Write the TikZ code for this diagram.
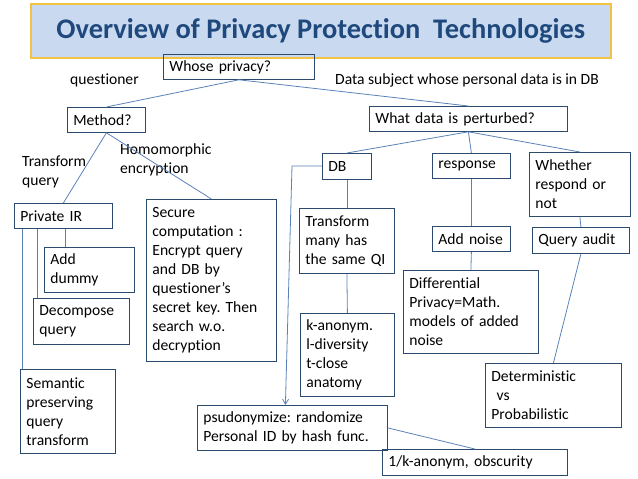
\documentclass[tikz,border=0pt]{standalone}
\usepackage{fontspec}
\setmainfont{Carlito}[Ligatures={NoCommon}]
\usetikzlibrary{arrows.meta}
\definecolor{boxc}{HTML}{2C4A6E}
\definecolor{linec}{HTML}{5A82B8}
\definecolor{titlefill}{HTML}{C9DAF0}
\definecolor{titledraw}{HTML}{F2C244}
\definecolor{titletext}{HTML}{1F497D}
\newcommand\fs{\fontsize{15.6}{19}\selectfont\frenchspacing}
\tikzset{
  box/.style={draw=boxc, line width=0.8pt, inner xsep=6pt, inner ysep=0pt, align=left, anchor=north west, font=\fs},
  lbl/.style={inner sep=0pt, align=left, anchor=west, font=\fs},
  conn/.style={draw=linec, line width=0.8pt},
}
\begin{document}
\begin{tikzpicture}[x=1pt,y=-1pt]
\useasboundingbox (0,0) rectangle (638,479);
% title
\node[draw=titledraw, fill=titlefill, line width=1.6pt, minimum width=580pt, minimum height=54pt, anchor=north west, inner sep=0pt,
  font=\fontsize{28.4}{30}\selectfont\bfseries, text=titletext] (title) at (30,3) {Overview of Privacy Protection\ \ Technologies};
% boxes
\node[box, text width=139pt, minimum height=25pt] (whose) at (163,54) {Whose privacy?};
\node[box, text width=66pt, minimum height=25pt] (method) at (67,107) {Method?};
\node[box, text width=186pt, minimum height=25pt] (whatdata) at (369,106) {What data is perturbed?};
\node[box, text width=86pt, minimum height=25pt] (privir) at (14,203) {Private IR};
\node[box, text width=78pt, minimum height=45pt] (adddummy) at (44,247) {Add\\dummy};
\node[box, text width=84pt, minimum height=46pt] (decompose) at (33,298) {Decompose\\query};
\node[box, text width=83pt, minimum height=84pt] (semantic) at (20,369) {Semantic\\preserving\\query\\transform};
\node[box, text width=118pt, minimum height=162pt] (secure) at (146,199) {Secure\\computation :\\Encrypt query\\and DB by\\questioner’s\\secret key. Then\\search w.o.\\decryption};
\node[box, text width=37pt, minimum height=26pt] (db) at (322,153) {DB};
\node[box, text width=66pt, minimum height=25pt] (response) at (432,153) {response};
\node[box, text width=89pt, minimum height=64pt] (whether) at (529,152) {Whether\\respond or\\not};
\node[box, text width=83pt, minimum height=65pt] (transform) at (299,208) {Transform\\many has\\the same QI};
\node[box, text width=82pt, minimum height=83pt] (kanon) at (300,313) {k-anonym.\\l-diversity\\t-close\\anatomy};
\node[box, text width=66pt, minimum height=25pt] (addnoise) at (432,226) {Add noise};
\node[box, text width=123pt, minimum height=83pt] (diff) at (403,270) {Differential\\Privacy=Math.\\models of added\\noise};
\node[box, text width=85pt, minimum height=26pt] (queryaudit) at (532,227) {Query audit};
\node[box, text width=124pt, minimum height=64pt] (determ) at (485,363) {Deterministic\\\ vs\\Probabilistic};
\node[box, text width=178pt, minimum height=45pt] (psud) at (197,405) {psudonymize: randomize\\Personal ID by hash func.};
\node[box, text width=173pt, minimum height=26pt] (onek) at (382,449) {1/k-anonym, obscurity};
% labels
\node[lbl] (questioner) at (70,80) {questioner};
\node[lbl] (datasubj) at (335,80) {Data subject whose personal data is in DB};
\node[lbl, anchor=north west] (tq) at (22,156) {Transform\\query};
\node[lbl, anchor=north west] (he) at (120,143) {Homomorphic\\encryption};
% connectors
\draw[conn] (whose.south) -- (method.north);
\draw[conn] (whose.south) -- (whatdata.north);
\draw[conn] (method.south) -- (privir.north);
\draw[conn] (method.south) -- (secure.north);
\draw[conn] (whatdata.south) -- (db.north);
\draw[conn] (whatdata.south) -- (response.north);
\draw[conn] (whatdata.south) -- (whether.north);
\draw[conn] (db.south) -- (transform.north);
\draw[conn] (transform.south) -- (kanon.north);
\draw[conn] (response.south) -- (addnoise.north);
\draw[conn] (addnoise.south) -- (diff.north);
\draw[conn] (whether.south) -- (queryaudit.north);
\draw[conn] (queryaudit.south) -- (determ.north);
\draw[conn] ([xshift=8pt]privir.south west) -- ([xshift=8pt]privir.south west |- semantic.north);
\draw[conn] ([xshift=23pt]privir.south west) -- ([xshift=23pt]privir.south west |- decompose.north);
\draw[conn] ([xshift=51pt]privir.south west) -- ([xshift=51pt]privir.south west |- adddummy.north);
\coordinate (corner) at (292,166);
\draw[conn, -{Straight Barb[length=5pt,width=6pt]}] (db.west |- corner) -- (corner) -- ([xshift=-7pt]psud.north);
\draw[conn] (psud.east) -- (onek.north);
\end{tikzpicture}
\end{document}
